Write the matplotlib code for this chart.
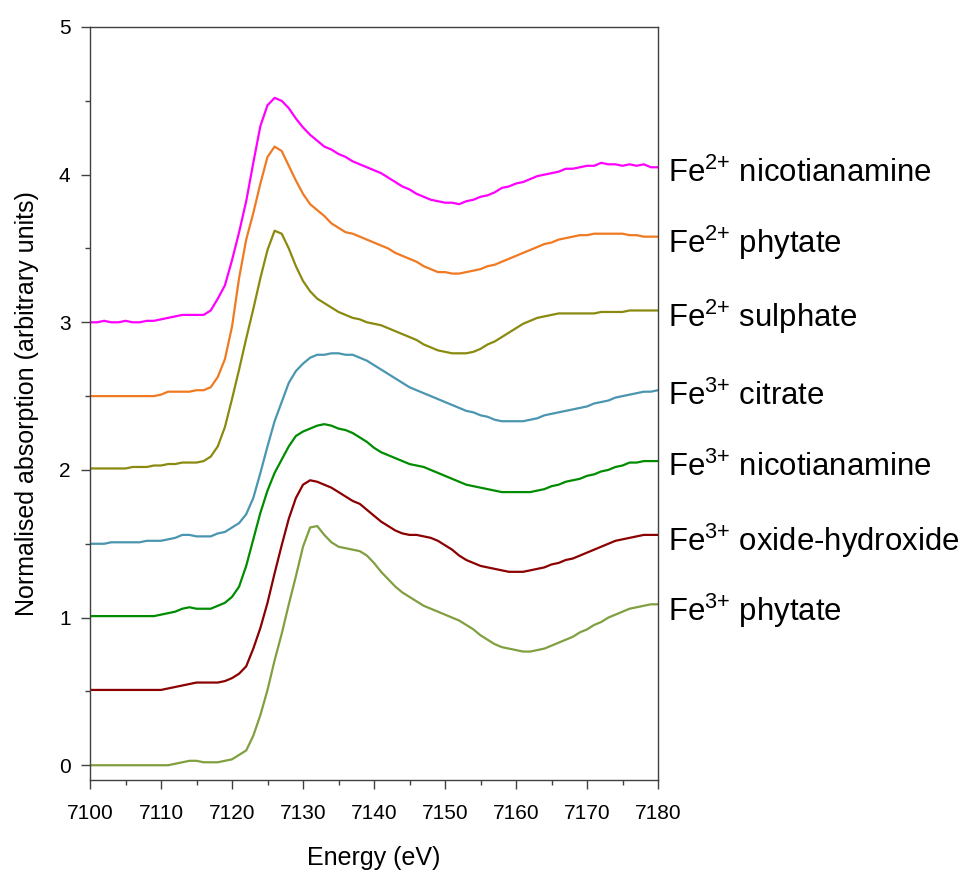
import matplotlib
matplotlib.use("Agg")
import matplotlib.pyplot as plt
from matplotlib.ticker import MultipleLocator

plt.rcParams['font.family'] = ['Liberation Sans', 'DejaVu Sans']
plt.rcParams['mathtext.fontset'] = 'custom'
plt.rcParams['mathtext.rm'] = 'Liberation Sans'
plt.rcParams['mathtext.it'] = 'Liberation Sans:italic'
plt.rcParams['mathtext.bf'] = 'Liberation Sans:bold'

energy = list(range(7100, 7181))

fe2_nicotianamine = [
    3.00, 3.00, 3.01, 3.00, 3.00, 3.01, 3.00, 3.00, 3.01, 3.01,
    3.02, 3.03, 3.04, 3.05, 3.05, 3.05, 3.05, 3.08, 3.16, 3.25,
    3.42, 3.61, 3.82, 4.08, 4.33, 4.47, 4.52, 4.50, 4.45, 4.38,
    4.32, 4.27, 4.23, 4.19, 4.17, 4.14, 4.12, 4.09, 4.07, 4.05,
    4.03, 4.01, 3.98, 3.95, 3.92, 3.90, 3.87, 3.85, 3.83, 3.82,
    3.81, 3.81, 3.80, 3.82, 3.83, 3.85, 3.86, 3.88, 3.91, 3.92,
    3.94, 3.95, 3.97, 3.99, 4.00, 4.01, 4.02, 4.04, 4.04, 4.05,
    4.06, 4.06, 4.08, 4.07, 4.07, 4.06, 4.07, 4.06, 4.07, 4.05,
    4.05]

fe2_phytate = [
    2.50, 2.50, 2.50, 2.50, 2.50, 2.50, 2.50, 2.50, 2.50, 2.50,
    2.51, 2.53, 2.53, 2.53, 2.53, 2.54, 2.54, 2.56, 2.63, 2.75,
    2.97, 3.30, 3.56, 3.74, 3.94, 4.12, 4.19, 4.16, 4.06, 3.96,
    3.87, 3.80, 3.76, 3.72, 3.67, 3.64, 3.61, 3.60, 3.58, 3.56,
    3.54, 3.52, 3.50, 3.47, 3.45, 3.43, 3.41, 3.38, 3.36, 3.34,
    3.34, 3.33, 3.33, 3.34, 3.35, 3.36, 3.38, 3.39, 3.41, 3.43,
    3.45, 3.47, 3.49, 3.51, 3.53, 3.54, 3.56, 3.57, 3.58, 3.59,
    3.59, 3.60, 3.60, 3.60, 3.60, 3.60, 3.59, 3.59, 3.58, 3.58,
    3.58]

fe2_sulphate = [
    2.01, 2.01, 2.01, 2.01, 2.01, 2.01, 2.02, 2.02, 2.02, 2.03,
    2.03, 2.04, 2.04, 2.05, 2.05, 2.05, 2.06, 2.09, 2.16, 2.29,
    2.48, 2.68, 2.89, 3.09, 3.30, 3.49, 3.62, 3.60, 3.50, 3.38,
    3.28, 3.21, 3.16, 3.13, 3.10, 3.07, 3.05, 3.03, 3.02, 3.00,
    2.99, 2.98, 2.96, 2.94, 2.92, 2.90, 2.88, 2.85, 2.83, 2.81,
    2.80, 2.79, 2.79, 2.79, 2.80, 2.82, 2.85, 2.87, 2.90, 2.93,
    2.96, 2.99, 3.01, 3.03, 3.04, 3.05, 3.06, 3.06, 3.06, 3.06,
    3.06, 3.06, 3.07, 3.07, 3.07, 3.07, 3.08, 3.08, 3.08, 3.08,
    3.08]

fe3_citrate = [
    1.50, 1.50, 1.50, 1.51, 1.51, 1.51, 1.51, 1.51, 1.52, 1.52,
    1.52, 1.53, 1.54, 1.56, 1.56, 1.55, 1.55, 1.55, 1.57, 1.58,
    1.61, 1.64, 1.70, 1.81, 1.98, 2.16, 2.33, 2.46, 2.59, 2.67,
    2.72, 2.76, 2.78, 2.78, 2.79, 2.79, 2.78, 2.78, 2.76, 2.74,
    2.71, 2.68, 2.65, 2.62, 2.59, 2.56, 2.54, 2.52, 2.50, 2.48,
    2.46, 2.44, 2.42, 2.40, 2.39, 2.37, 2.36, 2.34, 2.33, 2.33,
    2.33, 2.33, 2.34, 2.35, 2.37, 2.38, 2.39, 2.40, 2.41, 2.42,
    2.43, 2.45, 2.46, 2.47, 2.49, 2.50, 2.51, 2.52, 2.53, 2.53,
    2.54]

fe3_nicotianamine = [
    1.01, 1.01, 1.01, 1.01, 1.01, 1.01, 1.01, 1.01, 1.01, 1.01,
    1.02, 1.03, 1.04, 1.06, 1.07, 1.06, 1.06, 1.06, 1.08, 1.10,
    1.14, 1.21, 1.35, 1.53, 1.71, 1.86, 1.98, 2.07, 2.16, 2.23,
    2.26, 2.28, 2.30, 2.31, 2.30, 2.28, 2.27, 2.25, 2.22, 2.19,
    2.15, 2.12, 2.10, 2.08, 2.06, 2.04, 2.03, 2.02, 2.00, 1.98,
    1.96, 1.94, 1.92, 1.90, 1.89, 1.88, 1.87, 1.86, 1.85, 1.85,
    1.85, 1.85, 1.85, 1.86, 1.87, 1.89, 1.90, 1.92, 1.93, 1.94,
    1.96, 1.97, 1.99, 2.00, 2.02, 2.03, 2.05, 2.05, 2.06, 2.06,
    2.06]

fe3_oxide_hydroxide = [
    0.51, 0.51, 0.51, 0.51, 0.51, 0.51, 0.51, 0.51, 0.51, 0.51,
    0.51, 0.52, 0.53, 0.54, 0.55, 0.56, 0.56, 0.56, 0.56, 0.57,
    0.59, 0.62, 0.67, 0.79, 0.93, 1.10, 1.30, 1.49, 1.67, 1.81,
    1.90, 1.93, 1.92, 1.90, 1.88, 1.85, 1.82, 1.79, 1.77, 1.73,
    1.69, 1.65, 1.62, 1.59, 1.57, 1.56, 1.56, 1.55, 1.54, 1.52,
    1.49, 1.46, 1.42, 1.39, 1.37, 1.35, 1.34, 1.33, 1.32, 1.31,
    1.31, 1.31, 1.32, 1.33, 1.34, 1.36, 1.37, 1.39, 1.40, 1.42,
    1.44, 1.46, 1.48, 1.50, 1.52, 1.53, 1.54, 1.55, 1.56, 1.56,
    1.56]

fe3_phytate = [
    0.00, 0.00, 0.00, 0.00, 0.00, 0.00, 0.00, 0.00, 0.00, 0.00,
    0.00, 0.00, 0.01, 0.02, 0.03, 0.03, 0.02, 0.02, 0.02, 0.03,
    0.04, 0.07, 0.10, 0.20, 0.34, 0.51, 0.71, 0.89, 1.09, 1.28,
    1.48, 1.61, 1.62, 1.56, 1.51, 1.48, 1.47, 1.46, 1.45, 1.42,
    1.37, 1.31, 1.26, 1.21, 1.17, 1.14, 1.11, 1.08, 1.06, 1.04,
    1.02, 1.00, 0.98, 0.95, 0.92, 0.88, 0.85, 0.82, 0.80, 0.79,
    0.78, 0.77, 0.77, 0.78, 0.79, 0.81, 0.83, 0.85, 0.87, 0.90,
    0.92, 0.95, 0.97, 1.00, 1.02, 1.04, 1.06, 1.07, 1.08, 1.09,
    1.09]

labels = [
    r"Fe$^{2{+}}$ nicotianamine",
    r"Fe$^{2{+}}$ phytate",
    r"Fe$^{2{+}}$ sulphate",
    r"Fe$^{3{+}}$ citrate",
    r"Fe$^{3{+}}$ nicotianamine",
    r"Fe$^{3{+}}$ oxide-hydroxide",
    r"Fe$^{3{+}}$ phytate",
]
series = [fe2_nicotianamine, fe2_phytate, fe2_sulphate, fe3_citrate,
          fe3_nicotianamine, fe3_oxide_hydroxide, fe3_phytate]
colors = ["#FF00FF", "#F07A22", "#8A8A10", "#4A96B0", "#008C00", "#8B0000", "#80A040"]

fig = plt.figure(figsize=(9.62, 8.75), dpi=100)
ax = fig.add_axes([90/962, 1-780/875, (658-90)/962, (780-27)/875])

for vals, col, lab in zip(series, colors, labels):
    ax.plot(energy, vals, color=col, lw=1.6, solid_joinstyle='round')
    ax.annotate(lab, xy=(energy[-1], vals[-1]), xycoords='data',
                xytext=(7, -4.5), textcoords='offset points',
                ha='left', va='center', fontsize=22.4, annotation_clip=False)

ax.set_xlim(7100, 7180)
ax.set_ylim(-0.1, 5)
ax.xaxis.set_major_locator(MultipleLocator(10))
ax.xaxis.set_minor_locator(MultipleLocator(5))
ax.yaxis.set_major_locator(MultipleLocator(1))
ax.yaxis.set_minor_locator(MultipleLocator(0.5))

spine_col = "#404040"
for s in ax.spines.values():
    s.set_color(spine_col)
    s.set_linewidth(1.0)
ax.tick_params(which='both', direction='out', color=spine_col, width=1.0,
               top=False, right=False)
ax.tick_params(which='major', length=6.5, labelsize=15)
ax.tick_params(which='minor', length=3.6)
ax.tick_params(axis='x', which='major', pad=11)
ax.tick_params(axis='y', which='major', pad=7.5)

ax.set_xlabel("Energy (eV)", fontsize=18, labelpad=16)
ax.set_ylabel("Normalised absorption (arbitrary units)", fontsize=18, labelpad=14)

fig.savefig("out.png", dpi=100)
